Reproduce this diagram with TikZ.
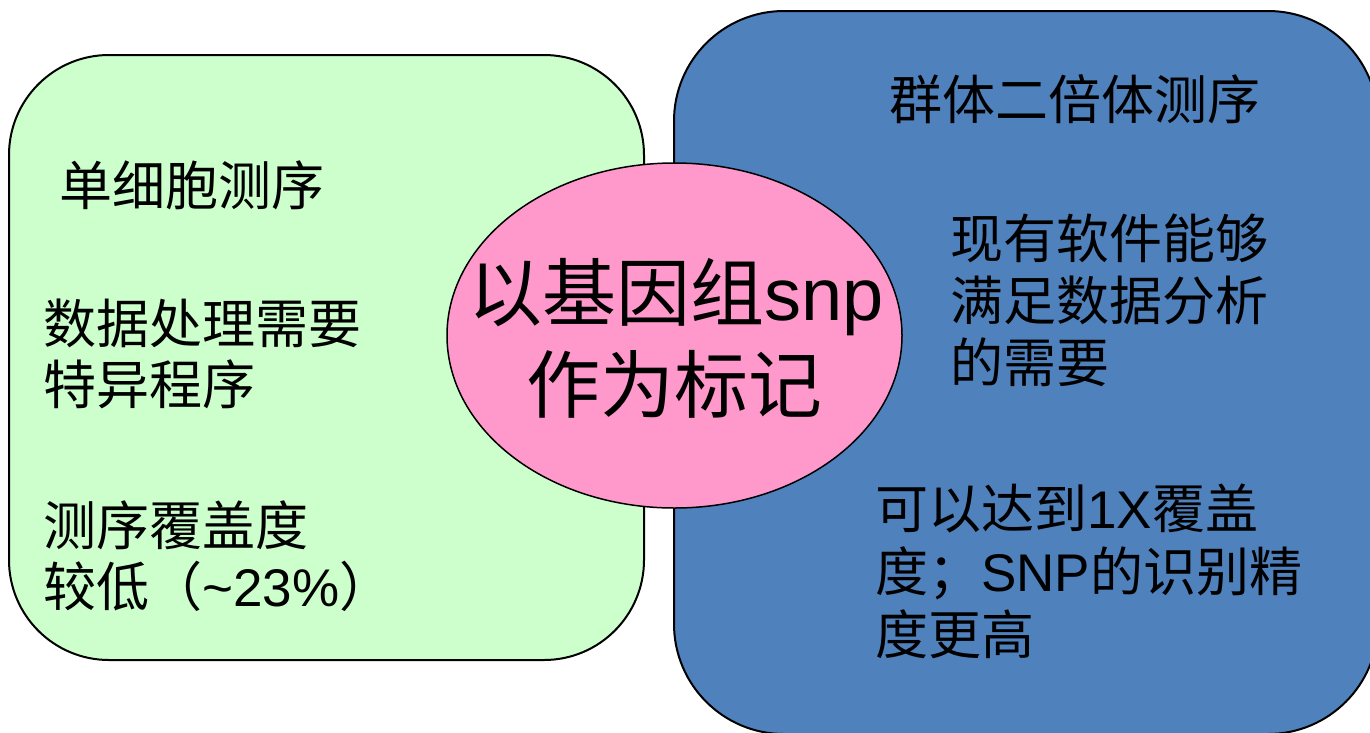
\documentclass[tikz,border=0pt]{standalone}
\usepackage{fontspec}
\setmainfont{Liberation Sans}
\newfontfamily\cjk{Noto Sans CJK SC}
\usetikzlibrary{shapes.geometric}
\definecolor{boxgreen}{HTML}{CCFFCC}
\definecolor{boxblue}{HTML}{4F81BD}
\definecolor{corepink}{HTML}{FF99CC}
\newcommand{\zh}[1]{{\cjk #1}}
\tikzset{
  greenbox/.style={draw=black, line width=2pt, fill=boxgreen, rounded corners=100pt},
  bluebox/.style={draw=black, line width=2pt, fill=boxblue, rounded corners=110pt},
  coreshape/.style={ellipse, draw=black, line width=1.5pt, fill=corepink, inner sep=0pt,
    minimum width=455pt, minimum height=345pt},
  txt/.style={anchor=base west, inner sep=0pt, font=\fontsize{53}{62}\selectfont},
  coretxt/.style={anchor=base, inner sep=0pt, font=\fontsize{74}{92}\selectfont}
}
\begin{document}
\begin{tikzpicture}[x=1pt, y=-1pt]
\useasboundingbox (0,0) rectangle (1370,732);
\clip (0,0) rectangle (1370,732);
\draw[greenbox] (9,55) rectangle (644,660);
\draw[bluebox] (674,11) rectangle (1378,734);
\node[coreshape] (core) at (674.5,335.5) {};
\node[coretxt] (c1) at (676,320) {\zh{以基因组}snp};
\node[coretxt] (c2) at (674,412) {\zh{作为标记}};
% left
\node[txt] (l1) at (59,205) {\zh{单细胞测序}};
\node[txt] (l2) at (43,343) {\zh{数据处理需要}};
\node[txt] (l3) at (43,404) {\zh{特异程序}};
\node[txt] (l4) at (43,545) {\zh{测序覆盖度}};
\node[txt] (l5) at (43,606) {\zh{较低（}\char`~23\%\zh{）}};
% right
\node[txt] (r1) at (889,119) {\zh{群体二倍体测序}};
\node[txt] (r2) at (950,258) {\zh{现有软件能够}};
\node[txt] (r3) at (950,320) {\zh{满足数据分析}};
\node[txt] (r4) at (950,382) {\zh{的需要}};
\node[txt] (r5) at (875,528) {\zh{可以达到}1X\zh{覆盖}};
\node[txt] (r6) at (875,591) {\zh{度；}SNP\zh{的识别精}};
\node[txt] (r7) at (875,654) {\zh{度更高}};
\end{tikzpicture}
\end{document}
